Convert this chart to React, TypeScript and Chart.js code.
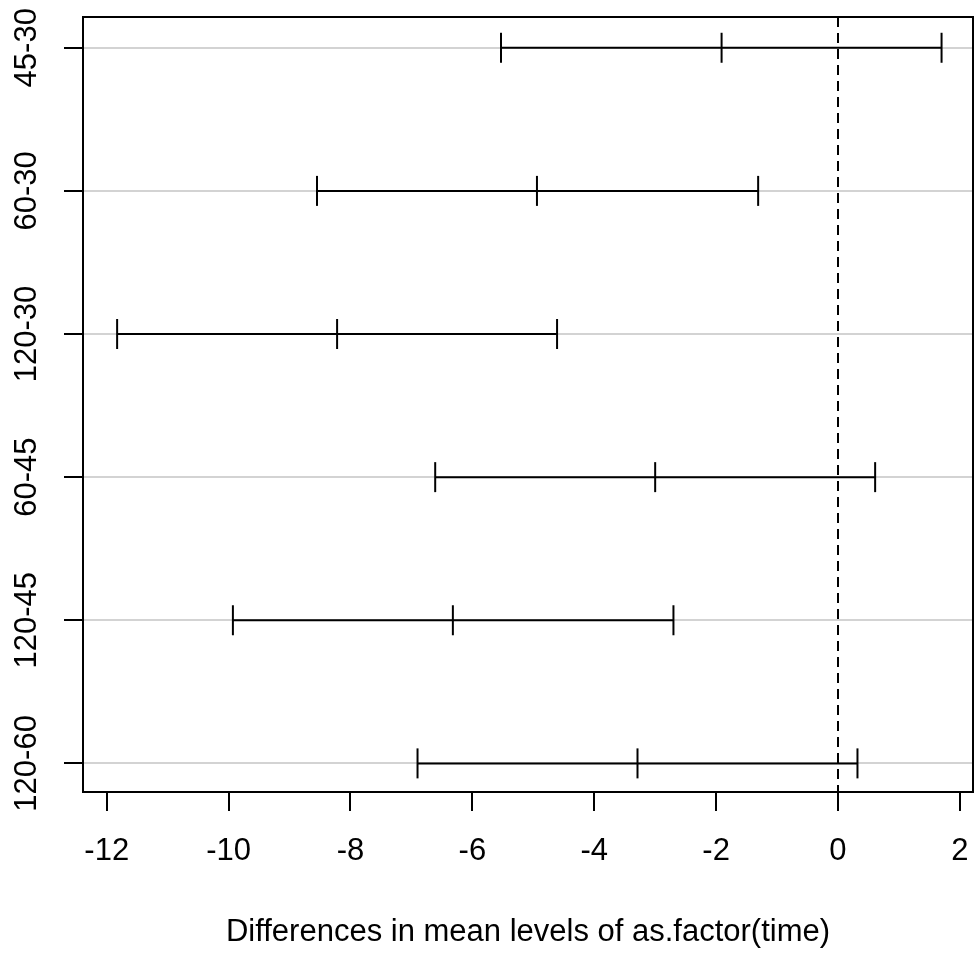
import React, { useEffect, useRef } from "react";
import { Chart, registerables } from "chart.js";

Chart.register(...registerables);

// ---- data (TukeyHSD, 95% family-wise CI) ----
const comparisons = ["45-30", "60-30", "120-30", "60-45", "120-45", "120-60"];
const diffs = [-1.91, -4.94, -8.22, -3.0, -6.32, -3.29];
const lowers = [-5.53, -8.55, -11.83, -6.61, -9.93, -6.9];
const uppers = [1.7, -1.31, -4.61, 0.61, -2.7, 0.32];
const xTickValues = [-12, -10, -8, -6, -4, -2, 0, 2];
const xTickLabels = ["-12", "-10", "-8", "-6", "-4", "-2", "0", "2"];
const xTitle = "Differences in mean levels of as.factor(time)";
const refLine = 0;

const FONT = '"Liberation Sans", Arial, Helvetica, sans-serif';
const FONT_SIZE = 31;

export default function App() {
  const ref = useRef<HTMLCanvasElement>(null);

  useEffect(() => {
    const canvas = ref.current;
    if (!canvas) return;

    const rPlot = {
      id: "rPlot",
      afterDraw(chart: any) {
        const { ctx, chartArea: a, scales } = chart;
        const xs = scales.x;
        const ys = scales.y;
        ctx.save();
        // dashed reference line at 0
        const zx = Math.round(xs.getPixelForValue(refLine));
        ctx.strokeStyle = "#000";
        ctx.lineWidth = 2;
        ctx.setLineDash([10, 6]);
        ctx.beginPath();
        ctx.moveTo(zx, a.top);
        ctx.lineTo(zx, a.bottom);
        ctx.stroke();
        ctx.setLineDash([]);
        // box
        ctx.strokeRect(a.left, a.top, a.right - a.left, a.bottom - a.top);
        ctx.fillStyle = "#000";
        ctx.font = `${FONT_SIZE}px ${FONT}`;
        ctx.textAlign = "center";
        ctx.textBaseline = "middle";
        // x tick labels from the scale's ticks
        xs.ticks.forEach((t: any) => {
          const k = xTickValues.indexOf(t.value);
          if (k < 0) return;
          ctx.fillText(xTickLabels[k], xs.getPixelForValue(t.value), 851);
        });
        // y labels (rotated)
        ys.ticks.forEach((t: any) => {
          const py = ys.getPixelForValue(t.value);
          const label = comparisons[t.value - 1];
          ctx.save();
          ctx.translate(27, py);
          ctx.rotate(-Math.PI / 2);
          ctx.fillText(label, 0, 0);
          ctx.restore();
        });
        // axis title
        ctx.textBaseline = "alphabetic";
        ctx.fillText(xTitle, (a.left + a.right) / 2, 941);
        ctx.restore();
      },
    };

    const datasets = comparisons.map((c, i) => ({
      label: c,
      data: [
        { x: lowers[i], y: i + 1 },
        { x: diffs[i], y: i + 1 },
        { x: uppers[i], y: i + 1 },
      ],
      showLine: true,
      borderColor: "#000",
      borderWidth: 2,
      pointStyle: "line",
      pointRotation: 90,
      pointRadius: 15,
      pointHoverRadius: 15,
      pointBorderWidth: 2,
      pointBorderColor: "#000",
      pointBackgroundColor: "#000",
    }));

    const chart = new Chart(canvas, {
      type: "scatter",
      data: { datasets } as any,
      plugins: [rPlot],
      options: {
        responsive: false,
        animation: false,
        events: [],
        layout: { autoPadding: false, padding: { top: 17, right: 6, left: 0, bottom: 0 } },
        plugins: {
          legend: { display: false },
          tooltip: { enabled: false },
          title: { display: false },
        },
        scales: {
          x: {
            type: "linear",
            min: -12.39,
            max: 2.216,
            afterBuildTicks: (s: any) => {
              s.ticks = xTickValues.map((v) => ({ value: v }));
            },
            afterFit: (s: any) => {
              s.height = 162;
            },
            border: { display: false },
            grid: {
              drawOnChartArea: false,
              drawTicks: true,
              tickLength: 19,
              color: "#000",
              tickColor: "#000",
              lineWidth: 2,
            },
            ticks: { display: false },
          },
          y: {
            type: "linear",
            reverse: true,
            min: 0.785,
            max: 6.2,
            afterBuildTicks: (s: any) => {
              s.ticks = comparisons.map((_, i) => ({ value: i + 1 }));
            },
            afterFit: (s: any) => {
              s.width = 83;
            },
            border: { display: false },
            grid: {
              drawOnChartArea: true,
              drawTicks: true,
              tickLength: 19,
              color: "#d3d3d3",
              tickColor: "#000",
              lineWidth: 2,
            },
            ticks: { display: false },
          },
        },
      } as any,
    });

    return () => chart.destroy();
  }, []);

  return (
    <div style={{ position: "fixed", left: 0, top: 0, width: 979, height: 954, background: "#fff" }}>
      <canvas ref={ref} width={979} height={954} style={{ display: "block", width: 979, height: 954 }} />
    </div>
  );
}
